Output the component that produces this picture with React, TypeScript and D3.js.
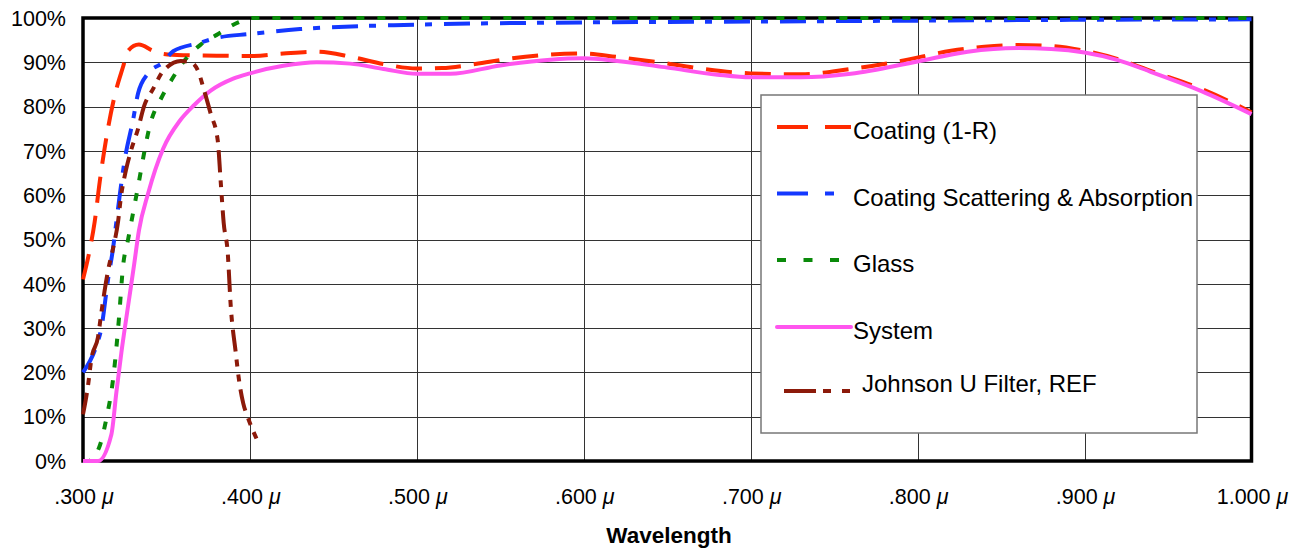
import React from 'react';
import * as d3 from 'd3';

// wavelength (microns), transmission (%)
const coatingR: [number, number][] = [
  [0.300, 41], [0.304, 47.6], [0.307, 54], [0.310, 63], [0.314, 73], [0.319, 82.5],
  [0.324, 89], [0.327, 92.6], [0.3335, 94], [0.342, 92.6], [0.348, 91.9], [0.36, 91.6],
  [0.38, 91.5], [0.40, 91.4], [0.42, 92], [0.44, 92.4], [0.46, 91.3], [0.48, 89.6],
  [0.50, 88.6], [0.515, 88.7], [0.535, 89.6], [0.555, 90.8], [0.575, 91.6], [0.60, 92],
  [0.62, 91.2], [0.645, 90], [0.67, 88.6], [0.70, 87.5], [0.73, 87.3], [0.76, 88.5],
  [0.79, 90.3], [0.82, 92.6], [0.84, 93.5], [0.86, 93.9], [0.88, 93.7], [0.90, 92.6],
  [0.92, 90.7], [0.94, 88], [0.97, 84], [0.985, 81.5], [1.0, 78.7],
];

const scattering: [number, number][] = [
  [0.300, 20], [0.308, 26], [0.311, 30], [0.315, 41], [0.318, 48], [0.32, 54],
  [0.322, 60], [0.325, 68], [0.33, 77], [0.333, 83], [0.339, 87.5], [0.348, 90],
  [0.354, 92.5], [0.37, 94.4], [0.38, 95.5], [0.40, 96.4], [0.43, 97.5], [0.50, 98.5],
  [0.60, 99], [0.70, 99.2], [0.80, 99.4], [0.90, 99.6], [1.0, 99.7],
];

const glass: [number, number][] = [
  [0.300, 0], [0.303, 0], [0.3096, 3], [0.3137, 9], [0.3185, 20], [0.3215, 32],
  [0.324, 44], [0.327, 50], [0.332, 60], [0.341, 77], [0.347, 82], [0.353, 86],
  [0.36, 90], [0.3705, 94], [0.381, 96.4], [0.393, 99], [0.402, 100], [0.5, 100],
  [0.6, 100], [0.7, 100], [0.8, 100], [0.9, 100], [1.0, 100],
];

const system: [number, number][] = [
  [0.300, 0], [0.309, 0], [0.317, 6], [0.32, 15.5], [0.323, 24.5], [0.327, 35],
  [0.3305, 44], [0.3335, 52], [0.339, 60.4], [0.348, 70.5], [0.358, 76.8], [0.3665, 80.3],
  [0.3765, 83.6], [0.39, 86.3], [0.40, 87.5], [0.42, 89.2], [0.44, 90], [0.46, 89.7],
  [0.48, 88.5], [0.50, 87.4], [0.52, 87.4], [0.55, 89.3], [0.58, 90.6], [0.60, 90.9],
  [0.62, 90.3], [0.65, 88.8], [0.68, 87.2], [0.70, 86.6], [0.73, 86.6], [0.76, 87.4],
  [0.80, 90.2], [0.83, 92.4], [0.86, 93.2], [0.88, 93], [0.90, 92.2], [0.92, 90.5],
  [0.94, 87.8], [0.97, 83.5], [1.0, 78.3],
];

const johnsonU: [number, number][] = [
  [0.300, 10.5], [0.303, 17], [0.305, 23], [0.309, 28], [0.311, 33.5], [0.315, 43],
  [0.318, 48], [0.321, 54], [0.3227, 59.5], [0.3257, 65.6], [0.3287, 70], [0.333, 75],
  [0.3365, 80], [0.342, 84], [0.348, 88], [0.3586, 90.3], [0.3646, 90], [0.369, 88],
  [0.3723, 84], [0.3765, 78.4], [0.3807, 72.4], [0.3825, 63], [0.3843, 53.7],
  [0.3867, 47], [0.3885, 35], [0.3915, 24.5], [0.3932, 19], [0.396, 13],
  [0.3986, 10], [0.4046, 4.5],
];

const xTicks = [0.3, 0.4, 0.5, 0.6, 0.7, 0.8, 0.9, 1.0];
const yTicks = [0, 10, 20, 30, 40, 50, 60, 70, 80, 90, 100];

const series = [
  { name: 'Coating (1-R)', data: coatingR, color: '#ff2a00', dash: '26,13', legendDash: '31,17' },
  { name: 'Coating Scattering & Absorption', data: scattering, color: '#1438ff', dash: '26,11,7,12', legendDash: '31,17,9,40' },
  { name: 'Glass', data: glass, color: '#0a8a0a', dash: '8,13', legendDash: '9,17.5' },
  { name: 'System', data: system, color: '#ff55ee', dash: null, legendDash: null },
  { name: 'Johnson U Filter, REF', data: johnsonU, color: '#8c1a0a', dash: '22,8,7,8,7,8', legendDash: '32,7,8,11,8,11' },
];

const font = '"Liberation Sans", Arial, Helvetica, sans-serif';

export default function App() {
  const width = 1307;
  const height = 548;
  const x = d3.scaleLinear().domain([0.3, 1.0]).range([83, 1251.5]);
  const y = d3.scaleLinear().domain([0, 100]).range([461, 18]);

  const line = d3.line<[number, number]>()
    .x(d => x(d[0]))
    .y(d => y(d[1]))
    .curve(d3.curveMonotoneX);

  const lg = { x: 761, y: 95, w: 436, h: 338 };
  const legendRows = [127, 193.5, 260, 327, 391];

  return (
    <svg width={width} height={height} style={{ position: 'absolute', left: 0, top: 0, background: '#fff' }}
      fontFamily={font}>
      <rect x={0} y={0} width={width} height={height} fill="#fff" />
      {/* grid */}
      {yTicks.map(t => (
        <line key={'gy' + t} x1={x(0.3)} x2={x(1.0)} y1={Math.round(y(t)) + 0.5} y2={Math.round(y(t)) + 0.5}
          stroke="#333" strokeWidth={1} />
      ))}
      {xTicks.map(t => (
        <line key={'gx' + t} x1={Math.round(x(t)) + 0.5} x2={Math.round(x(t)) + 0.5} y1={y(100)} y2={y(0)}
          stroke="#333" strokeWidth={1} />
      ))}
      {/* frame */}
      <rect x={x(0.3)} y={y(100)} width={x(1.0) - x(0.3)} height={y(0) - y(100)}
        fill="none" stroke="#000" strokeWidth={3.5} />

      {/* y labels */}
      {yTicks.map(t => (
        <text key={'yl' + t} x={66} y={y(t)} dy="0.36em" textAnchor="end" fontSize={21.5} fill="#000">
          {t + '%'}
        </text>
      ))}
      {/* x labels */}
      {xTicks.map(t => (
        <text key={'xl' + t} x={x(t) + 1} y={504} textAnchor="middle" fontSize={21.5} fill="#000">
          {(t < 1 ? d3.format('.3f')(t).replace(/^0/, '') : d3.format('.3f')(t)) + ' '}
          <tspan fontStyle="italic">μ</tspan>
        </text>
      ))}
      <text x={669} y={543} textAnchor="middle" fontSize={22.5} fontWeight="bold" fill="#000">Wavelength</text>

      {/* series */}
      {series.map(s => (
        <path key={s.name} d={line(s.data) || ''} fill="none" stroke={s.color} strokeWidth={4}
          strokeDasharray={s.dash || undefined} strokeLinejoin="round" />
      ))}

      {/* legend */}
      <rect x={lg.x} y={lg.y} width={lg.w} height={lg.h} fill="#fff" stroke="#777" strokeWidth={1.5} />
      {series.map((s, i) => {
        const ly = legendRows[i];
        const isJ = i === 4;
        return (
          <g key={'lg' + s.name}>
            <line x1={isJ ? 784 : 777} x2={851} y1={ly} y2={ly} stroke={s.color} strokeWidth={4}
              strokeDasharray={s.legendDash || undefined} strokeLinecap={s.legendDash ? 'butt' : 'round'} />
            <text x={isJ ? 862 : 853} y={isJ ? ly + 1 : ly + 12} fontSize={24} fill="#000">{s.name}</text>
          </g>
        );
      })}
    </svg>
  );
}
